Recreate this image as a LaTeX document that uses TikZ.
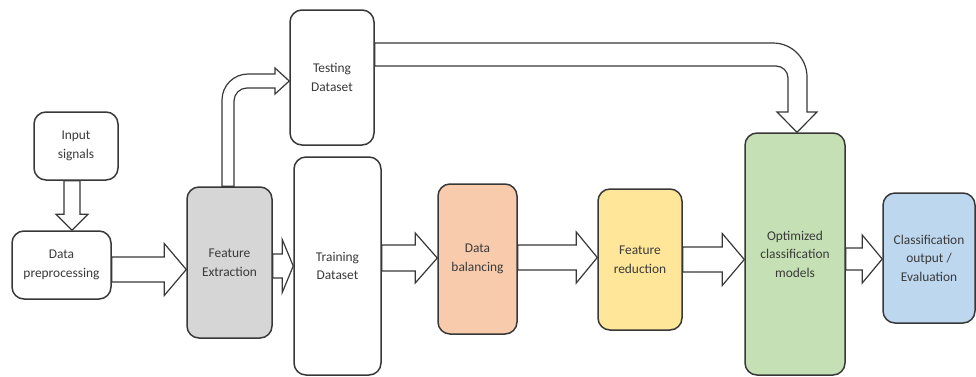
\documentclass[tikz,border=0pt]{standalone}
\usepackage{fontspec}
\setmainfont{Carlito}
\usetikzlibrary{calc}

\definecolor{edgegray}{HTML}{383838}
\definecolor{textgray}{HTML}{3A3A3A}
\definecolor{fegray}{HTML}{D6D6D6}
\definecolor{balorange}{HTML}{F8CBAD}
\definecolor{redyellow}{HTML}{FFE699}
\definecolor{optgreen}{HTML}{C5E0B4}
\definecolor{outblue}{HTML}{BDD7EE}

\tikzset{
  stagebox/.style={draw=edgegray, line width=1.5pt, rounded corners=12pt,
    fill=white, align=center, text=textgray, inner sep=0pt,
    font=\fontsize{13.4}{18.5}\selectfont},
  blockarrow/.style={draw=edgegray, line width=1.2pt, fill=white,
    line join=miter},
}

% horizontal block arrow: #1 from node, #2 to node, #3 centre y,
% #4 shaft half width, #5 head half width, #6 head length
\newcommand{\hblock}[6]{%
  \draw[blockarrow] (#2.west |- 0,#3) -- ++(-#6,-#5) -- ++(0,#5-#4)
    -- (#1.east |- 0,#3-#4) -- (#1.east |- 0,#3+#4)
    -- ($(#2.west |- 0,#3+#4)+(-#6,0)$) -- ++(0,#5-#4) -- cycle;}

\begin{document}
\begin{tikzpicture}[x=1pt, y=1pt, yscale=-1]
\useasboundingbox (0,0) rectangle (976,376);

% stages
\node[stagebox, minimum width=84pt, minimum height=68pt] (inp) at (76,146) {Input\\signals};
\node[stagebox, minimum width=99pt, minimum height=68pt] (pre) at (61.5,265) {Data\\preprocessing};
\node[stagebox, fill=fegray, minimum width=85pt, minimum height=151pt] (fe) at (229.5,262.5) {Feature\\Extraction};
\node[stagebox, minimum width=84pt, minimum height=135pt] (tst) at (332,77.5) {Testing\\Dataset};
\node[stagebox, minimum width=87pt, minimum height=218pt] (trn) at (337.5,266) {Training\\Dataset};
\node[stagebox, fill=balorange, minimum width=79pt, minimum height=150pt] (bal) at (477.5,259) {Data\\balancing};
\node[stagebox, fill=redyellow, minimum width=84pt, minimum height=141pt] (red) at (640,259.5) {Feature\\reduction};
\node[stagebox, fill=optgreen, minimum width=100pt, minimum height=242pt] (opt) at (795,254) {Optimized\\classification\\models};
\node[stagebox, fill=outblue, minimum width=92pt, minimum height=130pt] (out) at (929,258) {Classification\\output /\\Evaluation};

% input signals down to preprocessing
\draw[blockarrow] (pre.north -| 72,0) -- ++(-16,-16) -- ++(8,0)
  -- (inp.south -| 64,0) -- (inp.south -| 80,0)
  -- ($(pre.north -| 80,0)+(0,-16)$) -- ++(8,0) -- cycle;

% main pipeline
\hblock{pre}{fe}{269.5}{12.5}{26}{22}
\hblock{fe}{trn}{266}{12}{26.5}{11}
\hblock{trn}{bal}{258}{13}{25}{22}
\hblock{bal}{red}{257.5}{12.5}{25.5}{21}
\hblock{red}{opt}{259.5}{12.5}{26}{22}
\hblock{opt}{out}{259}{11}{24}{20}

% feature extraction up to the testing dataset
\draw[blockarrow] (fe.north -| 222,0) [rounded corners=26pt] -- (222,74)
  [sharp corners] -- (275,74) -- (275,68) -- (tst.west |- 0,81)
  -- (275,94) -- (275,88) [rounded corners=13pt] -- (234,88)
  [sharp corners] -- (fe.north -| 234,0) -- cycle;

% testing dataset over to the optimized models
\draw[blockarrow] (tst.east |- 0,43) [rounded corners=34pt] -- (807,43)
  [sharp corners] -- (807,112) -- (817,112) -- (opt.north -| 797,0)
  -- (777,112) -- (788,112) [rounded corners=12pt] -- (788,66)
  [sharp corners] -- (tst.east |- 0,66) -- cycle;
\end{tikzpicture}
\end{document}
